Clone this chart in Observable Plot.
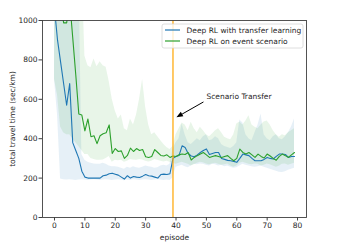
<!DOCTYPE html>
<html><head><meta charset="utf-8">
<script src="https://cdn.jsdelivr.net/npm/d3@7"></script>
<script src="https://cdn.jsdelivr.net/npm/@observablehq/plot@0.6"></script>
<style>body{margin:0;background:#fff;}</style>
</head><body><div id="chart"></div>
<script>
const episodes = d3.range(80);
const xTicks = [0, 10, 20, 30, 40, 50, 60, 70, 80];
const yTicks = [0, 200, 400, 600, 800, 1000];
const seriesNames = ["Deep RL with transfer learning", "Deep RL on event scenario"];
const seriesColors = ["#1f77b4", "#2ca02c"];
const transferEpisode = 39;
const annotationText = "Scenario Transfer";

const blue = [
  1060, 900, 790, 680, 570, 680, 380, 340, 300, 235,
  205, 200, 200, 200, 200, 200, 212, 215, 222, 225,
  220, 215, 205, 195, 212, 200, 208, 205, 203, 210,
  218, 212, 210, 205, 200, 218, 220, 218, 222, 300,
  310, 315, 364, 355, 325, 312, 308, 318, 330, 340,
  348, 320, 325, 330, 330, 300, 295, 290, 288, 285,
  280, 300, 322, 318, 314, 300, 288, 288, 288, 295,
  305, 300, 297, 310, 322, 322, 320, 305, 310, 310];
const blueLo = [
  700, 520, 195, 192, 190, 192, 190, 188, 190, 192,
  190, 188, 190, 192, 190, 188, 190, 192, 190, 188,
  190, 192, 190, 186, 190, 188, 192, 190, 188, 190,
  192, 190, 188, 190, 192, 190, 188, 190, 188, 200,
  255, 260, 265, 258, 252, 262, 270, 268, 272, 270,
  265, 262, 270, 268, 262, 265, 258, 262, 255, 250,
  252, 262, 270, 265, 262, 258, 255, 258, 262, 255,
  250, 245, 240, 235, 230, 228, 232, 240, 245, 250];
const blueHi = [
  1300, 1300, 1300, 1300, 1300, 1300, 1300, 1300, 1300, 320,
  290, 280, 275, 272, 270, 270, 275, 270, 262, 258,
  258, 255, 250, 245, 255, 250, 258, 252, 250, 255,
  262, 258, 255, 250, 252, 262, 265, 262, 270, 345,
  380, 400, 475, 420, 380, 370, 385, 400, 390, 410,
  420, 390, 395, 410, 400, 370, 360, 355, 350, 360,
  380, 495, 480, 420, 400, 390, 430, 470, 525, 420,
  400, 390, 410, 420, 400, 395, 410, 430, 460, 500];
const green = [
  1200, 1150, 1100, 988, 988, 1100, 913, 725, 525, 520,
  440, 500, 410, 415, 375, 415, 425, 430, 470, 325,
  350, 335, 338, 300, 315, 352, 335, 350, 340, 345,
  308, 305, 310, 345, 330, 315, 312, 318, 305, 312,
  310, 318, 322, 320, 330, 292, 305, 314, 322, 330,
  318, 305, 310, 314, 310, 305, 310, 314, 300, 288,
  300, 347, 330, 322, 330, 318, 305, 322, 310, 302,
  322, 312, 300, 291, 310, 322, 314, 305, 318, 330];
const greenLo = [
  700, 620, 460, 430, 420, 420, 400, 380, 360, 340,
  320, 320, 300, 295, 290, 290, 292, 300, 310, 280,
  290, 288, 290, 280, 285, 295, 292, 290, 295, 292,
  285, 282, 285, 295, 290, 285, 282, 285, 280, 275,
  270, 275, 280, 275, 270, 262, 268, 275, 280, 278,
  272, 268, 272, 275, 270, 265, 268, 272, 262, 255,
  262, 275, 280, 275, 270, 268, 272, 270, 262, 265,
  272, 268, 262, 255, 260, 270, 272, 265, 270, 275];
const greenHi = [
  1300, 1300, 1300, 1300, 1300, 1300, 1300, 1300, 1300, 1300,
  820, 770, 760, 805, 765, 790, 770, 763, 690, 600,
  540, 500, 520, 450, 440, 500, 470, 520, 600, 700,
  560, 470, 420, 430, 410, 390, 370, 355, 345, 360,
  420, 450, 480, 470, 440, 483, 450, 430, 458, 440,
  420, 410, 424, 440, 450, 430, 407, 400, 395, 420,
  475, 485, 470, 490, 517, 470, 458, 450, 470, 485,
  490, 470, 440, 420, 407, 420, 415, 430, 440, 450];

const rows = episodes.map((e, i) => ({
  episode: e, blue: blue[i], blueLo: blueLo[i], blueHi: blueHi[i],
  green: green[i], greenLo: greenLo[i], greenHi: greenHi[i]
}));

const textColor = "#262626";
const plot = Plot.plot({
  width: 340, height: 243,
  marginLeft: 42, marginRight: 34, marginTop: 20, marginBottom: 26,
  style: {fontFamily: "DejaVu Sans", fontSize: "7px", color: textColor, background: "#fff"},
  x: {domain: [-3.95, 82.95]},
  y: {domain: [0, 1000]},
  marks: [
    Plot.areaY(rows, {x: "episode", y1: "blueLo", y2: "blueHi", fill: seriesColors[0], fillOpacity: 0.11, clip: true}),
    Plot.areaY(rows, {x: "episode", y1: "greenLo", y2: "greenHi", fill: seriesColors[1], fillOpacity: 0.11, clip: true}),
    Plot.lineY(rows, {x: "episode", y: "blue", stroke: seriesColors[0], strokeWidth: 1.1, clip: true}),
    Plot.lineY(rows, {x: "episode", y: "green", stroke: seriesColors[1], strokeWidth: 1.1, clip: true}),
    Plot.ruleX([transferEpisode], {stroke: "orange", strokeWidth: 1.2}),
    Plot.text([{x: 50, y: 600, label: annotationText}], {x: "x", y: "y", text: "label", textAnchor: "start", lineAnchor: "bottom", fontSize: 7.5, fill: textColor}),
    Plot.frame({stroke: "#404040", strokeWidth: 0.9}),
    Plot.axisX(xTicks, {tickSize: 3.5, tickPadding: 1.5, stroke: "#404040", tickFormat: d => String(d), label: "episode", labelAnchor: "center", labelArrow: "none", labelOffset: 22, fontSize: 7.5}),
    Plot.axisY(yTicks, {tickSize: 3.5, tickPadding: 1.5, stroke: "#404040", tickFormat: d => String(d), label: "total travel time (sec/km)", labelAnchor: "center", labelArrow: "none", labelOffset: 33, fontSize: 7.5})
  ]
});
document.getElementById("chart").appendChild(plot);

const sx = plot.scale("x"), sy = plot.scale("y");
const svg = d3.select(plot);
// annotation arrow
const tail = [sx.apply(49.2), sy.apply(584)];
const head = [sx.apply(40.3), sy.apply(506)];
const ang = Math.atan2(head[1] - tail[1], head[0] - tail[0]);
const hl = 6.5, hw = 2.6;
const base = [head[0] - hl * Math.cos(ang), head[1] - hl * Math.sin(ang)];
svg.append("line").attr("x1", tail[0]).attr("y1", tail[1]).attr("x2", base[0]).attr("y2", base[1])
  .attr("stroke", "#000").attr("stroke-width", 1);
svg.append("path").attr("d", `M${head[0]},${head[1]}L${base[0] - hw * Math.sin(ang)},${base[1] + hw * Math.cos(ang)}L${base[0] + hw * Math.sin(ang)},${base[1] - hw * Math.cos(ang)}Z`)
  .attr("fill", "#000");

// legend
const lg = svg.append("g").attr("font-family", "DejaVu Sans").attr("font-size", 7.5).attr("text-anchor", "start");
lg.append("rect").attr("x", 162).attr("y", 24).attr("width", 141).attr("height", 24).attr("rx", 2)
  .attr("fill", "#fff").attr("fill-opacity", 0.8).attr("stroke", "#d6d6d6").attr("stroke-width", 0.8);
seriesNames.forEach((name, i) => {
  const y = 30 + i * 11;
  lg.append("line").attr("x1", 165).attr("x2", 180).attr("y1", y).attr("y2", y)
    .attr("stroke", seriesColors[i]).attr("stroke-width", 1.2);
  lg.append("text").attr("x", 186.5).attr("y", y).attr("dy", "0.35em").attr("text-anchor", "start").attr("fill", textColor).text(name);
});
</script>
</body></html>
